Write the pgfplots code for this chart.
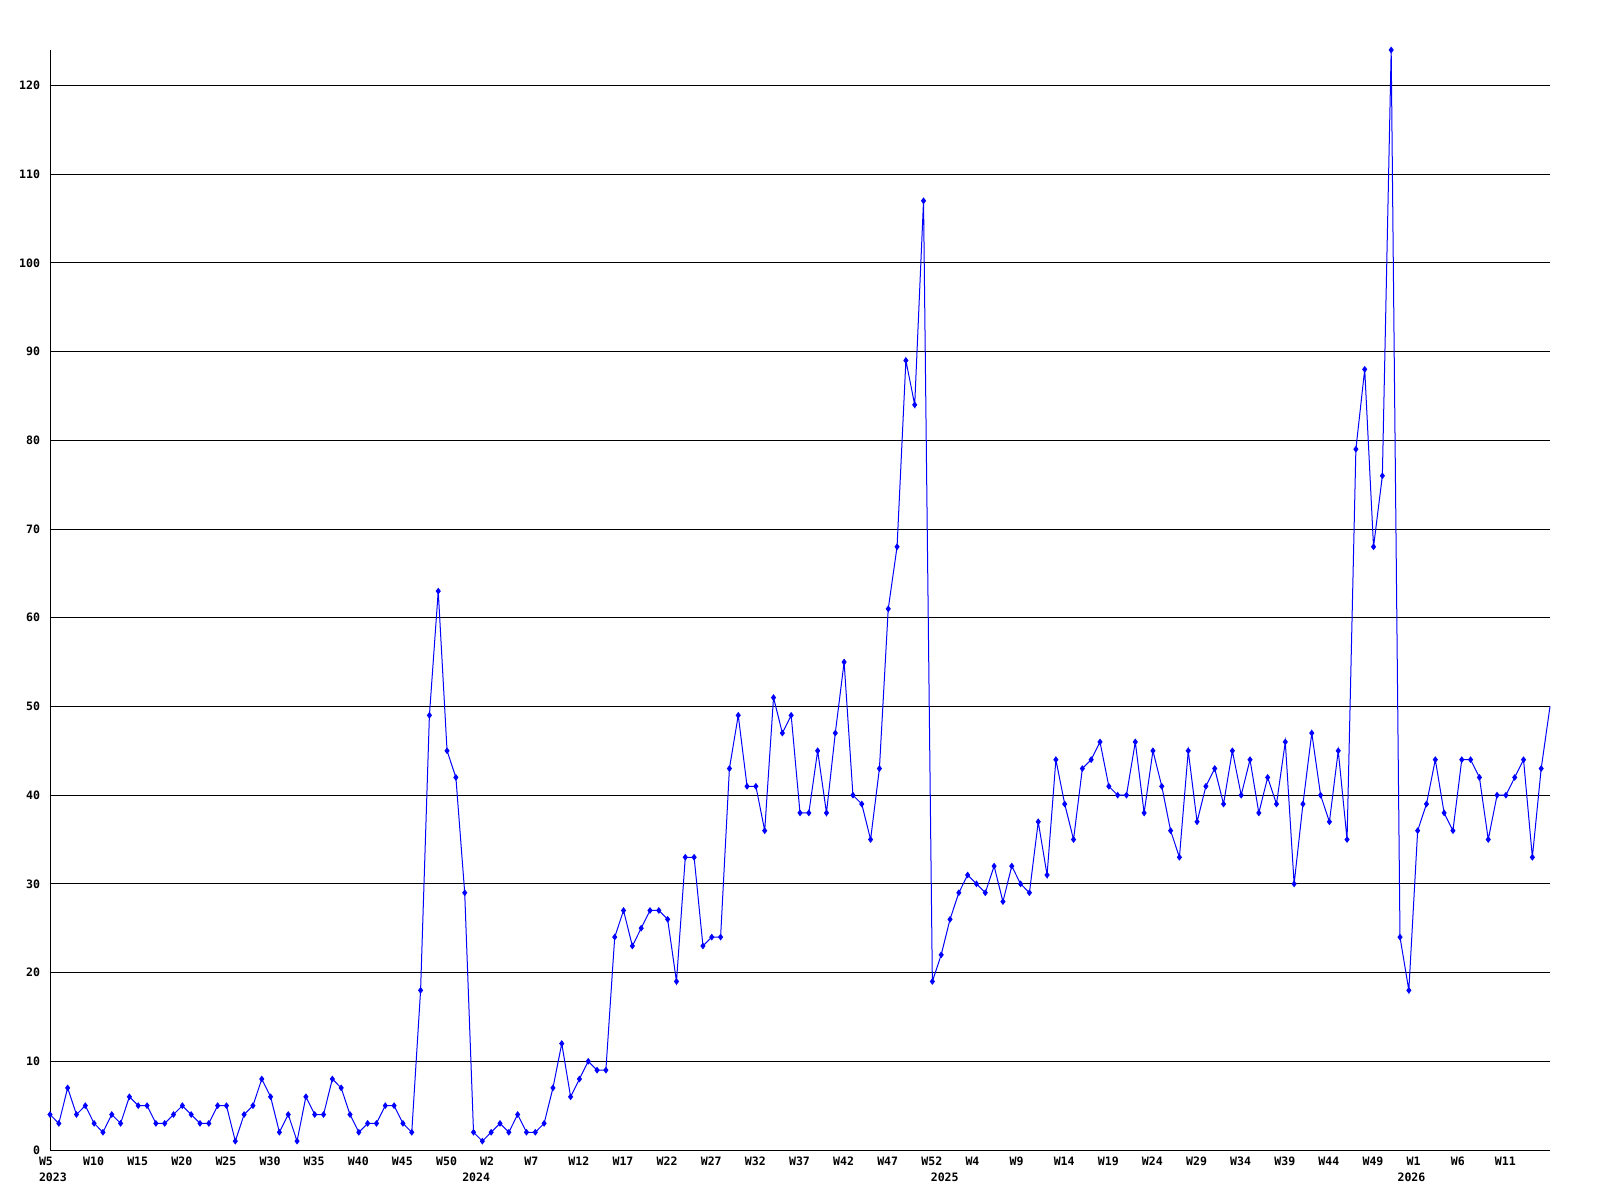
\documentclass[border=0pt]{standalone}
\usepackage{pgfplots}
\pgfplotsset{compat=1.18}
\usepackage{fontspec}
\setmonofont{DejaVu Sans Mono}
\newcommand{\lblfont}{\fontsize{5.8}{6.5}\selectfont\ttfamily\bfseries}
\begin{document}
\begin{tikzpicture}
\begin{axis}[
  name=ax,
  scale only axis,
  width=750bp, height=550bp,
  xmin=0, xmax=170, ymin=0, ymax=124,
  axis x line=bottom, axis y line=left,
  axis line style={black, line width=0.5bp, -},
  clip=false,
  ytick={0,10,...,120},
  ymajorgrids,
  grid style={black, line width=0.5bp},
  major tick length=0pt,
  /pgf/number format/assume math mode=true,
  ticklabel style={font=\lblfont},
  yticklabel style={anchor=east, xshift=-1.5bp},
  xtick={0,5,...,165},
  xticklabels={W5,W10,W15,W20,W25,W30,W35,W40,W45,W50,W2,W7,W12,W17,W22,W27,W32,W37,W42,W47,W52,W4,W9,W14,W19,W24,W29,W34,W39,W44,W49,W1,W6,W11},
  xticklabel style={anchor=west, xshift=-9bp, yshift=-5.5bp},
]
\addplot[blue, line width=0.5bp, mark=diamond*, mark size=1.3bp, mark options={solid, fill=blue, draw=blue}] coordinates {
(0,4)(1,3)(2,7)(3,4)(4,5)(5,3)(6,2)(7,4)(8,3)(9,6)(10,5)(11,5)(12,3)(13,3)(14,4)(15,5)(16,4)(17,3)(18,3)(19,5)(20,5)(21,1)(22,4)(23,5)(24,8)(25,6)(26,2)(27,4)(28,1)(29,6)(30,4)(31,4)(32,8)(33,7)(34,4)(35,2)(36,3)(37,3)(38,5)(39,5)(40,3)(41,2)(42,18)(43,49)(44,63)(45,45)(46,42)(47,29)(48,2)(49,1)(50,2)(51,3)(52,2)(53,4)(54,2)(55,2)(56,3)(57,7)(58,12)(59,6)(60,8)(61,10)(62,9)(63,9)(64,24)(65,27)(66,23)(67,25)(68,27)(69,27)(70,26)(71,19)(72,33)(73,33)(74,23)(75,24)(76,24)(77,43)(78,49)(79,41)(80,41)(81,36)(82,51)(83,47)(84,49)(85,38)(86,38)(87,45)(88,38)(89,47)(90,55)(91,40)(92,39)(93,35)(94,43)(95,61)(96,68)(97,89)(98,84)(99,107)(100,19)(101,22)(102,26)(103,29)(104,31)(105,30)(106,29)(107,32)(108,28)(109,32)(110,30)(111,29)(112,37)(113,31)(114,44)(115,39)(116,35)(117,43)(118,44)(119,46)(120,41)(121,40)(122,40)(123,46)(124,38)(125,45)(126,41)(127,36)(128,33)(129,45)(130,37)(131,41)(132,43)(133,39)(134,45)(135,40)(136,44)(137,38)(138,42)(139,39)(140,46)(141,30)(142,39)(143,47)(144,40)(145,37)(146,45)(147,35)(148,79)(149,88)(150,68)(151,76)(152,124)(153,24)(154,18)(155,36)(156,39)(157,44)(158,38)(159,36)(160,44)(161,44)(162,42)(163,35)(164,40)(165,40)(166,42)(167,44)(168,33)(169,43)
};
\addplot[blue, line width=0.5bp, no marks] coordinates {(169,43)(170,50)};
\node[font=\lblfont, anchor=west] at ([xshift=-9bp, yshift=-13.5bp]axis cs:0,0) {2023};
\node[font=\lblfont] at ([yshift=-13.5bp]axis cs:48.3,0) {2024};
\node[font=\lblfont] at ([yshift=-13.5bp]axis cs:101.4,0) {2025};
\node[font=\lblfont] at ([yshift=-13.5bp]axis cs:154.3,0) {2026};
\end{axis}
\path[use as bounding box] ([shift={(-25bp,-25bp)}]ax.south west) rectangle ([shift={(25bp,25bp)}]ax.north east);
\end{tikzpicture}
\end{document}
